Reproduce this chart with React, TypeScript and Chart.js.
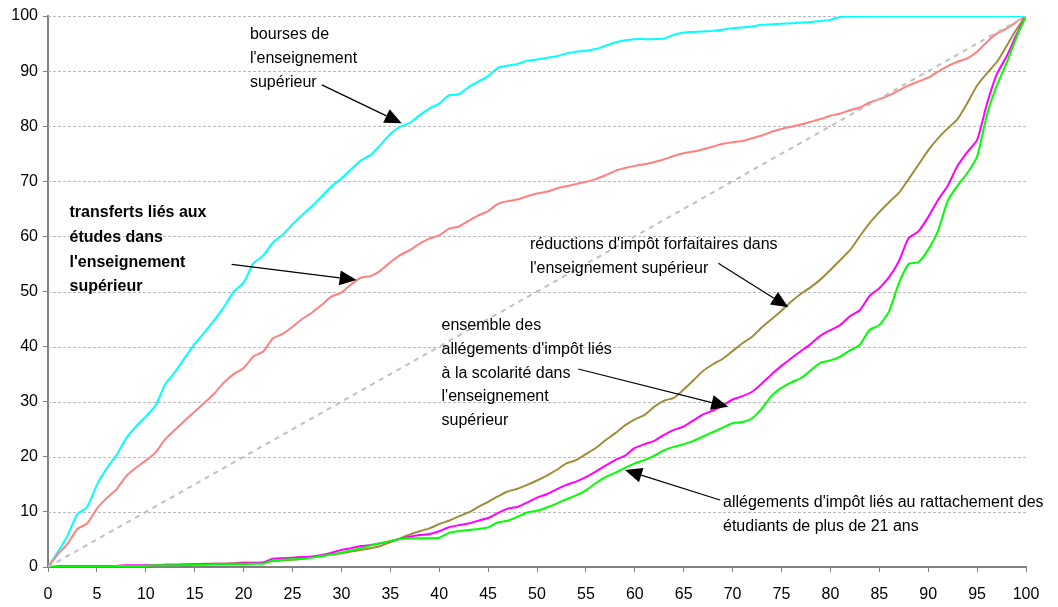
import React, { useEffect, useRef } from "react";
import { Chart, registerables } from "chart.js";

Chart.register(...registerables);

// Population percentile (x axis)
const percentiles = [
  0, 1, 2, 3, 4, 5, 6, 7, 8, 9, 10, 11, 12, 13, 14, 15, 16, 17, 18, 19, 20,
  21, 22, 23, 24, 25, 26, 27, 28, 29, 30, 31, 32, 33, 34, 35, 36, 37, 38, 39, 40,
  41, 42, 43, 44, 45, 46, 47, 48, 49, 50, 51, 52, 53, 54, 55, 56, 57, 58, 59, 60,
  61, 62, 63, 64, 65, 66, 67, 68, 69, 70, 71, 72, 73, 74, 75, 76, 77, 78, 79, 80,
  81, 82, 83, 84, 85, 86, 87, 88, 89, 90, 91, 92, 93, 94, 95, 96, 97, 98, 99, 100,
];

const bourses = [
  0, 2.7, 5.7, 9.6, 10.9, 14.9, 17.9, 20.3, 23.4, 25.5, 27.3, 29.3, 33.2, 35.4, 38, 40.5, 42.6, 44.8, 47.2, 50, 51.6,
  55.1, 56.5, 58.9, 60.3, 62.2, 63.9, 65.5, 67.3, 69.1, 70.5, 72.2, 73.8, 74.8, 76.6, 78.6, 79.9, 80.6, 82, 83.2, 84.1,
  85.6, 85.8, 87.1, 88.1, 89.1, 90.6, 91, 91.3, 91.9, 92.1, 92.4, 92.7, 93.2, 93.5, 93.7, 94, 94.6, 95.2, 95.6, 95.8,
  95.8, 95.8, 95.9, 96.6, 97, 97.1, 97.2, 97.3, 97.5, 97.8, 97.9, 98.1, 98.4, 98.5, 98.6, 98.7, 98.8, 98.9, 99.1, 99.3,
  99.8, 99.9, 99.9, 99.9, 100, 100, 100, 100, 100, 100, 100, 100, 100, 100, 100, 100, 100, 100, 100, 100,
];

const transferts = [
  0, 2.3, 4.2, 6.9, 7.9, 10.6, 12.5, 14.1, 16.5, 18, 19.3, 20.8, 23.2, 24.9, 26.6, 28.2, 29.8, 31.5, 33.5, 35, 36.1,
  38.2, 39.1, 41.5, 42.3, 43.6, 45, 46.2, 47.6, 49.1, 49.8, 51.3, 52.5, 52.8, 53.8, 55.3, 56.6, 57.5, 58.7, 59.6, 60.2,
  61.4, 61.8, 62.8, 63.8, 64.6, 65.9, 66.4, 66.7, 67.3, 67.8, 68.1, 68.7, 69.1, 69.5, 69.9, 70.4, 71.1, 71.9, 72.4, 72.8,
  73.1, 73.5, 74, 74.6, 75.1, 75.4, 75.8, 76.3, 76.8, 77.1, 77.3, 77.8, 78.3, 79, 79.5, 79.9, 80.3, 80.8, 81.3, 81.9,
  82.3, 82.9, 83.4, 84.3, 84.9, 85.6, 86.5, 87.4, 88.1, 88.8, 89.9, 90.9, 91.7, 92.3, 93.5, 95.3, 96.8, 97.7, 98.9, 100,
];

const reductions = [
  0, 0.1, 0.2, 0.2, 0.2, 0.2, 0.2, 0.2, 0.2, 0.2, 0.2, 0.3, 0.4, 0.4, 0.5, 0.5, 0.6, 0.6, 0.6, 0.7, 0.8,
  0.8, 0.8, 1.1, 1.2, 1.3, 1.5, 1.8, 2, 2.3, 2.5, 2.8, 3.1, 3.4, 3.8, 4.5, 5.2, 5.9, 6.5, 7, 7.8,
  8.4, 9.2, 9.9, 10.9, 11.8, 12.8, 13.7, 14.2, 14.9, 15.7, 16.6, 17.6, 18.8, 19.4, 20.5, 21.6, 23, 24.3, 25.7, 26.8,
  27.6, 29.1, 30.2, 30.7, 32.2, 33.9, 35.6, 36.8, 37.8, 39.2, 40.6, 41.8, 43.5, 45, 46.5, 48.2, 49.6, 50.8, 52.2, 53.9,
  55.7, 57.5, 60, 62.4, 64.4, 66.2, 67.9, 70.4, 73, 75.6, 77.8, 79.6, 81.3, 84.2, 87.4, 89.6, 91.6, 94.5, 97.5, 100,
];

const ensemble = [
  0, 0.1, 0.2, 0.2, 0.2, 0.2, 0.2, 0.2, 0.3, 0.3, 0.3, 0.3, 0.4, 0.4, 0.4, 0.5, 0.5, 0.6, 0.6, 0.6, 0.7,
  0.7, 0.8, 1.5, 1.6, 1.7, 1.8, 1.9, 2.2, 2.6, 3.1, 3.4, 3.8, 4, 4.3, 4.7, 5.1, 5.5, 5.8, 6, 6.5,
  7.2, 7.6, 7.9, 8.4, 8.9, 9.8, 10.6, 10.9, 11.7, 12.6, 13.2, 14.1, 14.9, 15.5, 16.3, 17.3, 18.4, 19.4, 20.2, 21.6,
  22.3, 22.9, 24, 24.9, 25.5, 26.6, 27.7, 28.4, 29.3, 30.4, 31, 31.8, 33.3, 35, 36.5, 37.9, 39.2, 40.5, 42, 43,
  43.9, 45.5, 46.6, 49.2, 50.6, 52.6, 55.5, 59.7, 60.9, 63.5, 66.6, 69.2, 72.8, 75.3, 77.5, 84, 89.4, 92.6, 96.5, 100,
];

const rattachement = [
  0, 0, 0.1, 0.1, 0.1, 0.1, 0.1, 0.2, 0.2, 0.2, 0.2, 0.3, 0.3, 0.3, 0.4, 0.4, 0.4, 0.5, 0.5, 0.5, 0.5,
  0.6, 0.6, 1.2, 1.3, 1.4, 1.5, 1.7, 2, 2.3, 2.6, 3, 3.4, 3.9, 4.3, 4.7, 5.1, 5.2, 5.2, 5.2, 5.3,
  6.2, 6.5, 6.7, 6.9, 7.2, 8.1, 8.4, 9.1, 9.9, 10.2, 10.8, 11.5, 12.3, 13, 13.9, 15.2, 16.3, 17.1, 18, 18.8,
  19.4, 20.2, 21.2, 21.8, 22.3, 22.9, 23.7, 24.5, 25.3, 26.1, 26.3, 27, 28.8, 31.1, 32.5, 33.5, 34.3, 35.7, 37.1, 37.5,
  38.2, 39.3, 40.3, 43, 43.9, 46.4, 51.5, 55, 55.3, 57.6, 61, 66.5, 69.2, 71.5, 74.5, 82, 87.3, 91.4, 96, 100,
];

const egaliteX = [0, 100];
const egaliteY = [0, 100];

// Annotations: text lines anchored in data units, arrows from text to curve
const annotations = [
  { x: 20.65, y: 96.55, bold: false, lines: ["bourses de", "l'enseignement", "supérieur"] },
  { x: 2.2, y: 64.25, bold: true, lines: ["transferts liés aux", "études dans", "l'enseignement", "supérieur"] },
  { x: 49.28, y: 58.44, bold: false, lines: ["réductions d'impôt forfaitaires dans", "l'enseignement supérieur"] },
  { x: 40.24, y: 43.74, bold: false, lines: ["ensemble des", "allégements d'impôt liés", "à la scolarité dans", "l'enseignement", "supérieur"] },
  { x: 69.02, y: 11.62, bold: false, lines: ["allégements d'impôt liés au rattachement des", "étudiants de plus de 21 ans"] },
];

const arrows = [
  { fx: 28.0, fy: 87.5, tx: 36.17, ty: 80.53 },
  { fx: 18.78, fy: 54.94, tx: 31.56, ty: 52.09 },
  { fx: 68.54, fy: 55.12, tx: 75.7, ty: 47.13 },
  { fx: 54.22, fy: 35.93, tx: 69.56, ty: 29.09 },
  { fx: 68.71, fy: 12.16, tx: 59.0, ty: 17.6 },
];

const FONT = "'Liberation Sans', Arial, sans-serif";

const toPoints = (xs: number[], ys: number[]) => xs.map((x, i) => ({ x, y: ys[i] }));

// Dashed horizontal gridlines drawn from the y scale's own ticks
const dashedGridPlugin = {
  id: "dashedGrid",
  beforeDatasetsDraw(chart: any) {
    const ctx = chart.ctx;
    const ys = chart.scales.y;
    const area = chart.chartArea;
    ctx.save();
    ctx.strokeStyle = "#b8b8b8";
    ctx.lineWidth = 1;
    ctx.setLineDash([3, 2]);
    for (const t of ys.ticks) {
      if (t.value === 0) continue;
      const y = Math.round(ys.getPixelForValue(t.value)) + 0.5;
      ctx.beginPath();
      ctx.moveTo(area.left, y);
      ctx.lineTo(area.right, y);
      ctx.stroke();
    }
    ctx.restore();
  },
};

const annotationPlugin = {
  id: "annotationsText",
  afterDatasetsDraw(chart: any) {
    const ctx = chart.ctx;
    const xs = chart.scales.x;
    const ys = chart.scales.y;
    ctx.save();
    ctx.fillStyle = "#000";
    ctx.textBaseline = "middle";
    ctx.textAlign = "left";
    for (const a of annotations) {
      ctx.font = `${a.bold ? "bold " : ""}16px ${FONT}`;
      const px = xs.getPixelForValue(a.x);
      const py = ys.getPixelForValue(a.y);
      const lh = a.bold ? 24.7 : 23.6;
      a.lines.forEach((l, i) => ctx.fillText(l, px, py + i * lh));
    }
    ctx.strokeStyle = "#000";
    ctx.lineWidth = 1.2;
    for (const ar of arrows) {
      const x1 = xs.getPixelForValue(ar.fx);
      const y1 = ys.getPixelForValue(ar.fy);
      const x2 = xs.getPixelForValue(ar.tx);
      const y2 = ys.getPixelForValue(ar.ty);
      const ang = Math.atan2(y2 - y1, x2 - x1);
      const hl = 17;
      const hw = 7.5;
      const bx = x2 - hl * Math.cos(ang);
      const by = y2 - hl * Math.sin(ang);
      ctx.beginPath();
      ctx.moveTo(x1, y1);
      ctx.lineTo(bx, by);
      ctx.stroke();
      ctx.beginPath();
      ctx.moveTo(x2, y2);
      ctx.lineTo(bx + hw * Math.sin(ang), by - hw * Math.cos(ang));
      ctx.lineTo(bx - hw * Math.sin(ang), by + hw * Math.cos(ang));
      ctx.closePath();
      ctx.fill();
    }
    ctx.restore();
  },
};

export default function App() {
  const ref = useRef<HTMLCanvasElement | null>(null);
  useEffect(() => {
    if (!ref.current) return;
    const line = (data: number[], color: string) => ({
      data: toPoints(percentiles, data),
      borderColor: color,
      borderWidth: 2,
      pointRadius: 0,
      tension: 0.2,
      fill: false,
    });
    const chart = new Chart(ref.current, {
      type: "line",
      data: {
        datasets: [
          {
            data: toPoints(egaliteX, egaliteY),
            borderColor: "#c0c0c0",
            borderWidth: 2,
            borderDash: [5, 5],
            pointRadius: 0,
            fill: false,
          },
          line(rattachement, "#00ff00"),
          line(ensemble, "#ff00ff"),
          line(reductions, "#9e8e3c"),
          line(transferts, "#ff8080"),
          line(bourses, "#00ffff"),
        ],
      },
      options: {
        responsive: false,
        animation: false,
        layout: { padding: { top: 16, right: 32, left: 0, bottom: 0 } },
        plugins: { legend: { display: false }, tooltip: { enabled: false } },
        scales: {
          x: {
            type: "linear",
            min: 0,
            max: 100,
            afterFit: (s: any) => {
              s.height = 40;
            },
            ticks: {
              stepSize: 5,
              color: "#000",
              padding: 13,
              maxRotation: 0,
              font: { family: FONT, size: 16 },
            },
            grid: {
              drawOnChartArea: false,
              drawTicks: true,
              tickLength: 5,
              tickColor: "#808080",
              tickWidth: 1,
            },
            border: { display: true, color: "#808080", width: 2 },
          },
          y: {
            type: "linear",
            min: 0,
            max: 100,
            afterFit: (s: any) => {
              s.width = 48;
            },
            ticks: {
              stepSize: 10,
              color: "#000",
              padding: 5,
              font: { family: FONT, size: 16 },
            },
            grid: {
              drawOnChartArea: false,
              drawTicks: true,
              tickLength: 5,
              tickColor: "#808080",
              tickWidth: 1,
            },
            border: { display: true, color: "#808080", width: 2 },
          },
        },
      },
      plugins: [dashedGridPlugin, annotationPlugin],
    });
    return () => chart.destroy();
  }, []);
  return (
    <div style={{ position: "fixed", left: 0, top: 0, width: 1058, height: 607, background: "#fff" }}>
      <canvas ref={ref} width={1058} height={607} style={{ display: "block" }} />
    </div>
  );
}
